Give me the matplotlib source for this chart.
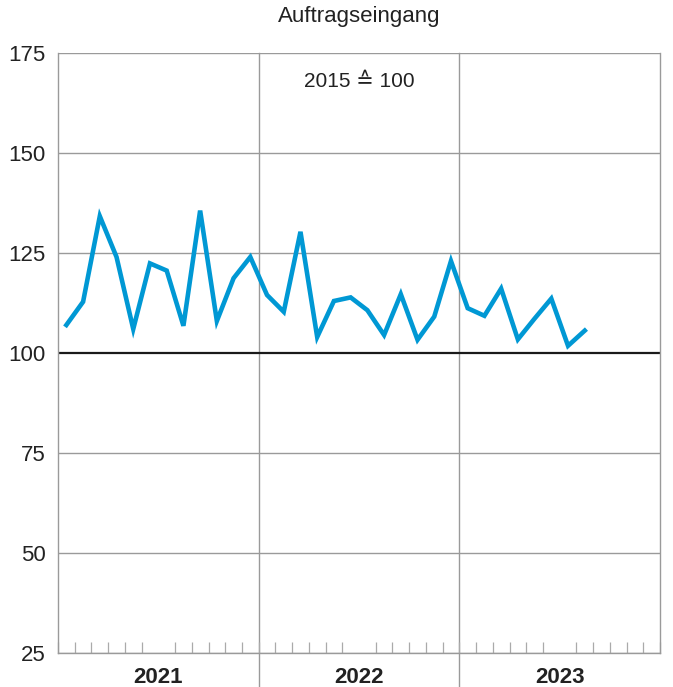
import numpy as np
import matplotlib.pyplot as plt

plt.rcParams['font.family'] = ['Liberation Sans', 'DejaVu Sans']

# Auftragseingang, 2015 = 100, monatlich ab Jan 2021
werte = [107, 112.8, 134.2, 124, 106, 122.4, 120.6, 106.8, 135.6, 108,
         118.7, 124, 114.5, 110.3, 130.3, 104, 113, 113.9, 110.7, 104.5,
         114.7, 103.3, 109.1, 123, 111.2, 109.3, 116.1, 103.4, 108.6, 113.6,
         101.8, 105.6]
jahre = ['2021', '2022', '2023']
y_ticks = [25, 50, 75, 100, 125, 150, 175]

fig = plt.figure(figsize=(6.73, 6.87), dpi=100)
ax = fig.add_axes([58/673, 1-653/687, 602/673, 600/687])

grau = '#9a9a9a'
for v in y_ticks:
    if v == 100:
        ax.axhline(v, color='#1a1a1a', lw=1.6, zorder=2)
    else:
        ax.axhline(v, color=grau, lw=1.0, zorder=1)

# Jahrestrenner, bis unter die Achse
for k in range(1, 3):
    ax.axvline(12*k, ymin=-0.055, ymax=1, color=grau, lw=1.0, clip_on=False, zorder=1)

x = np.arange(len(werte)) + 0.5
ax.plot(x, werte, color='#0098d4', lw=3.3, solid_joinstyle='miter', zorder=3)

ax.set_xlim(0, 36)
ax.set_ylim(25, 175)
ax.set_yticks(y_ticks)
ax.set_yticklabels([str(v) for v in y_ticks], fontsize=16, color='#222222')
ax.tick_params(axis='y', length=0, pad=9)

ax.set_xticks(np.arange(0, 37), minor=True)
ax.set_xticks([6, 18, 30])
ax.set_xticklabels(jahre, fontsize=16, fontweight='bold', color='#222222')
ax.tick_params(axis='x', which='major', length=0, pad=10)
ax.tick_params(axis='x', which='minor', direction='in', length=8, color='#aaaaaa', width=0.9)

for s in ['left', 'right', 'bottom']:
    ax.spines[s].set_color(grau)
    ax.spines[s].set_linewidth(1.0)
ax.spines['top'].set_visible(False)

ax.set_title('Auftragseingang', fontsize=16, color='#222222', pad=22)
ax.text(0.5, 0.952, '2015 \u2259 100', transform=ax.transAxes, ha='center', va='center',
        fontsize=15, color='#222222')

fig.savefig('out.png', dpi=100)
